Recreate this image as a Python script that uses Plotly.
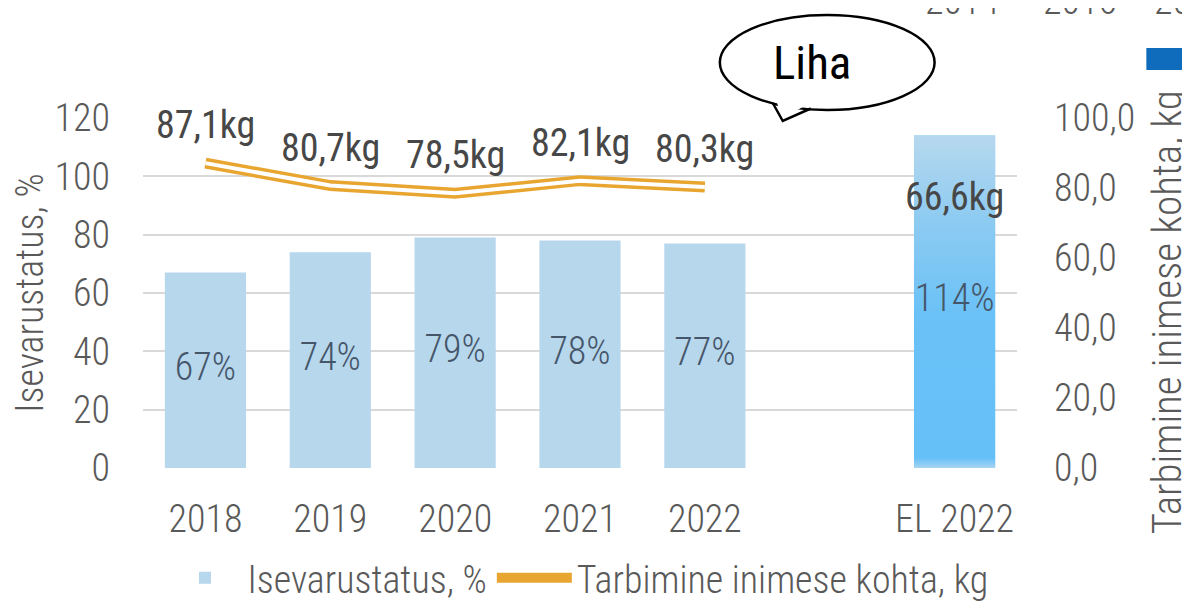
import plotly.graph_objects as go

# ---- data ----
categories = ["2018", "2019", "2020", "2021", "2022", "EL 2022"]
x_positions = [0, 1, 2, 3, 4, 6]          # gap before the EU bar
self_sufficiency = [67, 74, 79, 78, 77, 114]   # Isevarustatus, %
consumption = [87.1, 80.7, 78.5, 82.1, 80.3, 66.6]  # Tarbimine inimese kohta, kg
line_count = 5   # the line covers Estonian years only
top_cut_labels = ["2014", "2016", "2018"]

FONT = "Roboto Condensed, Liberation Sans Narrow, Roboto, sans-serif"
BAR_W = 0.65
BAR_COLOR = "#b6d7ec"
ORANGE = "#e8a631"
GREY = "#595959"
FS = 38

# page is offset by the 8px body margin; figure is sized to fit the window
OFF = 8
W, H = 1190 - OFF, 603 - OFF
L, T = 142.5 - OFF, 118 - OFF
R, B = W - (1017.5 - OFF), H - (468 - OFF)
PW, PH = W - L - R, H - T - B
def px(xp):   # page x -> paper
    return (xp - OFF - L) / PW
def py(yp):   # page y -> paper
    return (H - B - (yp - OFF)) / PH

fig = go.Figure()

bar_colors = [BAR_COLOR] * (len(categories) - 1) + ["#67c0f7"]
fig.add_trace(go.Bar(
    x=x_positions, y=self_sufficiency, width=BAR_W,
    marker=dict(color=bar_colors, line=dict(width=0)),
    name="Isevarustatus, %", textposition="none",
    hoverinfo="x+y",
))

# gradient overlay for the EU bar (built from its value)
xe, ve = x_positions[-1], self_sufficiency[-1]
fig.add_trace(go.Scatter(
    x=[xe - BAR_W / 2, xe + BAR_W / 2, xe + BAR_W / 2, xe - BAR_W / 2, xe - BAR_W / 2],
    y=[0, 0, ve, ve, 0],
    mode="lines", line=dict(width=0), fill="toself",
    fillgradient=dict(type="vertical", colorscale=[
        [0.0, "#a8d5f2"], [0.03, "#66c0f8"], [0.45, "#69c1f7"],
        [0.75, "#8ecbf1"], [1.0, "#b7d8ee"]]),
    showlegend=False, hoverinfo="skip",
))

# bar value labels (centred in each bar)
fig.add_trace(go.Scatter(
    x=x_positions, y=[v / 2 for v in self_sufficiency],
    mode="text", text=[f"{v}%" for v in self_sufficiency],
    textposition="middle center",
    textfont=dict(family=FONT, size=FS, color="#46566a", weight=300),
    showlegend=False, hoverinfo="skip",
))

# consumption line (double stroke look)
fig.add_trace(go.Scatter(
    x=x_positions[:line_count], y=consumption[:line_count], yaxis="y2",
    mode="lines", line=dict(color=ORANGE, width=11),
    name="Tarbimine inimese kohta, kg",
))
fig.add_trace(go.Scatter(
    x=x_positions[:line_count], y=consumption[:line_count], yaxis="y2",
    mode="lines", line=dict(color="white", width=4),
    showlegend=False, hoverinfo="skip",
))

annotations = []
for xv, v in zip(x_positions, consumption):
    annotations.append(dict(
        x=xv, y=v, xref="x", yref="y2", yshift=38,
        text=f"{v:.1f}".replace(".", ",") + "kg", showarrow=False,
        font=dict(family=FONT, size=FS, color="#474747", weight=400),
    ))

# right-hand axis title (placed like the original, slightly below centre)
annotations.append(dict(
    x=px(1168), y=py(312), xref="paper", yref="paper",
    text="Tarbimine inimese kohta, kg", textangle=-90,
    xanchor="center", yanchor="middle", showarrow=False,
    font=dict(family=FONT, size=41, color=GREY, weight=300),
))

# "Liha" speech bubble text
annotations.append(dict(
    x=px(812), y=py(62), xref="paper", yref="paper", text="Liha",
    xanchor="center", yanchor="middle",
    showarrow=False, font=dict(family=FONT, size=47, color="black", weight=400),
))
# cropped labels from a neighbouring chart at the very top
for lab, cx in zip(top_cut_labels, [962, 1081, 1192]):
    annotations.append(dict(
        x=px(cx), y=py(1), xref="paper", yref="paper", text=lab,
        xanchor="center", yanchor="middle",
        showarrow=False, font=dict(family=FONT, size=FS, color=GREY, weight=300),
    ))

shapes = [
    dict(type="circle", xref="paper", yref="paper",
         x0=px(720), x1=px(935), y0=py(110), y1=py(15),
         line=dict(color="black", width=2.5), fillcolor="white", layer="above"),
    dict(type="path", xref="paper", yref="paper",
         path=f"M {px(776)} {py(99)} L {px(782)} {py(118)} L {px(809)} {py(104)} Z",
         line=dict(width=0), fillcolor="white", layer="above"),
    dict(type="path", xref="paper", yref="paper",
         path=f"M {px(773)} {py(103)} L {px(783)} {py(121)} L {px(811)} {py(108.5)}",
         line=dict(color="black", width=2.5), layer="above"),
    dict(type="rect", xref="paper", yref="paper",
         x0=px(1147), x1=px(1200), y0=py(70), y1=py(48),
         line=dict(width=0), fillcolor="#0f6cbd", layer="above"),
]

fig.update_layout(
    width=W, height=H,
    margin=dict(l=L, r=R, t=T, b=B, autoexpand=False),
    paper_bgcolor="white", plot_bgcolor="white",
    separators=",.",
    font=dict(family=FONT, color=GREY, size=FS, weight=300),
    xaxis=dict(
        range=[-0.5, 6.5], tickmode="array", tickvals=x_positions, ticktext=categories,
        showgrid=False, zeroline=False, showline=False, ticks="",
        ticklabelstandoff=25,
        tickfont=dict(family=FONT, size=FS, color=GREY, weight=300),
    ),
    yaxis=dict(
        range=[0, 120], tickvals=[0, 20, 40, 60, 80, 100, 120],
        showgrid=True, gridcolor="#d9d9d9", gridwidth=1.5, zeroline=False,
        ticklabelstandoff=32,
        tickfont=dict(family=FONT, size=FS, color=GREY, weight=300),
        title=dict(text="Isevarustatus, %", standoff=16,
                   font=dict(family=FONT, size=FS, color=GREY, weight=300)),
    ),
    yaxis2=dict(
        range=[0, 100], tickvals=[0, 20, 40, 60, 80, 100], tickformat=".1f",
        overlaying="y", side="right", showgrid=False, zeroline=False,
        ticklabelstandoff=36,
        tickfont=dict(family=FONT, size=FS, color=GREY, weight=300),
    ),
    legend=dict(
        orientation="h", x=px(162), y=py(578), xanchor="left", yanchor="middle",
        font=dict(family=FONT, size=FS, color=GREY, weight=300),
        bgcolor="rgba(0,0,0,0)", itemwidth=75, tracegroupgap=0,
    ),
    annotations=annotations,
    shapes=shapes,
)

fig.write_html("out.html")
